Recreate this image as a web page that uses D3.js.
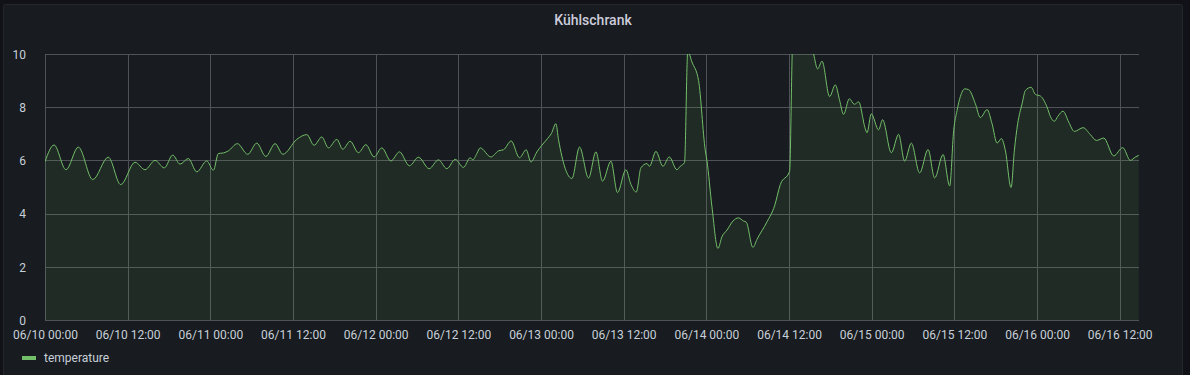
<!DOCTYPE html>
<html>
<head>
<meta charset="utf-8">
<script src="https://cdn.jsdelivr.net/npm/d3@7"></script>
<style>
  html, body { margin: 0; padding: 0; background: #111217; }
  svg { display: block; }
  text { font-family: Roboto, "Noto Sans", sans-serif; }
</style>
</head>
<body>
<div id="chart"></div>
<script>
var width = 1190;
var height = 375;

// series: hours since 06/10 00:00, temperature
var hours = [0.0, 1.31, 3.05, 4.84, 6.93, 9.19, 10.99, 13.07, 14.52, 15.97, 17.32, 18.54, 19.6, 20.81, 22.03, 23.48,
  24.44, 25.17, 25.89, 26.62, 27.92, 29.43, 30.74, 32.05, 33.4, 34.52, 36.55, 38.0, 39.06, 40.18, 41.14, 42.36,
  43.23, 44.29, 45.5, 46.57, 47.77, 48.89, 50.2, 51.45, 52.9, 54.21, 55.76, 57.11, 58.33, 59.54, 60.74, 61.72,
  62.1, 62.69, 63.17, 64.72, 65.83, 66.55, 67.67, 68.87, 69.85, 70.53, 71.4, 72.13, 72.94, 73.48, 74.16, 74.54,
  76.48, 77.59, 78.9, 79.97, 80.93, 82.15, 83.1, 84.32, 85.05, 85.82, 86.5, 87.37, 87.75, 88.68, 89.7, 90.61,
  91.73, 92.21, 92.83, 93.3, 93.91, 94.87, 95.84, 96.08, 96.81, 97.68, 98.26, 98.99, 99.86, 100.67, 101.4, 101.79,
  102.76, 103.34, 104.8, 105.9, 106.73, 108.08, 108.55, 109.64, 110.8, 111.57, 112.15, 112.79, 113.89, 114.72, 115.35, 115.92,
  116.75, 117.48, 118.1, 119.07, 119.32, 119.94, 121.0, 121.58, 122.85, 123.91, 124.78, 125.75, 126.96, 128.18, 129.14, 130.36,
  131.32, 131.9, 132.39, 132.87, 133.49, 134.07, 135.05, 135.77, 136.75, 137.47, 138.2, 138.82, 139.4, 140.23, 140.71, 141.19,
  141.83, 142.31, 143.14, 143.76, 144.49, 145.46, 145.94, 146.52, 147.0, 147.78, 148.6, 149.42, 150.69, 151.74, 152.62, 153.68,
  155.13, 156.44, 157.55, 158.28, 158.76];
var temperature = [5.95, 6.58, 5.65, 6.5, 5.28, 6.12, 5.09, 5.93, 5.65, 6.0, 5.72, 6.2, 5.86, 6.07, 5.57, 5.98,
  5.63, 6.26, 6.28, 6.36, 6.63, 6.23, 6.65, 6.15, 6.63, 6.23, 6.79, 6.97, 6.57, 6.88, 6.47, 6.79,
  6.42, 6.72, 6.29, 6.59, 6.13, 6.47, 5.98, 6.32, 5.8, 6.12, 5.69, 6.02, 5.69, 6.04, 5.74, 6.1,
  6.02, 6.26, 6.47, 6.13, 6.36, 6.4, 6.73, 6.1, 6.4, 5.94, 6.32, 6.57, 6.82, 7.0, 7.38, 6.78,
  5.32, 6.5, 5.34, 6.32, 5.22, 5.97, 4.79, 5.65, 5.1, 4.81, 5.72, 5.88, 5.78, 6.34, 5.78, 6.13,
  5.65, 5.78, 5.92, 10.1, 9.7, 9.0, 6.38, 6.0, 4.26, 2.69, 3.13, 3.38, 3.72, 3.84, 3.72, 3.68,
  2.73, 3.03, 3.69, 4.29, 5.09, 5.59, 10.6, 11.2, 10.9, 10.0, 9.44, 9.73, 8.4, 8.84, 8.25, 7.73,
  8.32, 8.11, 8.2, 7.19, 7.04, 7.75, 7.15, 7.53, 6.29, 6.98, 5.97, 6.65, 5.53, 6.41, 5.34, 6.22,
  5.04, 7.13, 7.88, 8.4, 8.69, 8.66, 8.13, 7.61, 7.91, 7.38, 6.65, 6.82, 6.38, 4.98, 6.38, 7.38,
  8.13, 8.63, 8.75, 8.48, 8.42, 8.0, 7.65, 7.47, 7.65, 7.85, 7.44, 7.09, 7.23, 6.97, 6.75, 6.84,
  6.17, 6.48, 6.0, 6.13, 6.19];

var yTicks = [0, 2, 4, 6, 8, 10];
var xTickLabels = ["06/10 00:00", "06/10 12:00", "06/11 00:00", "06/11 12:00", "06/12 00:00", "06/12 12:00",
  "06/13 00:00", "06/13 12:00", "06/14 00:00", "06/14 12:00", "06/15 00:00", "06/15 12:00", "06/16 00:00", "06/16 12:00"];
var title = "Kühlschrank";
var seriesName = "temperature";

var start = new Date(2021, 5, 10, 0, 0);
var end = new Date(start.getTime() + 158.8 * 3600e3);
var data = hours.map(function(h, i) {
  return {t: new Date(start.getTime() + h * 3600e3), v: temperature[i]};
});
var xTicks = xTickLabels.map(function(d, i) { return new Date(start.getTime() + i * 12 * 3600e3); });

var margin = {left: 45, right: 51, top: 54, bottom: 55};
var x = d3.scaleTime().domain([start, end]).range([margin.left, width - margin.right]);
var y = d3.scaleLinear().domain([0, 10]).range([height - margin.bottom, margin.top]);

var svg = d3.select("#chart").append("svg")
  .attr("width", width)
  .attr("height", height);

// panel
svg.append("rect")
  .attr("x", 3.5).attr("y", 4.5)
  .attr("width", 1179).attr("height", 380)
  .attr("rx", 2)
  .style("fill", "#181b1f")
  .style("stroke", "#24272c");

svg.append("text")
  .attr("x", 593).attr("y", 25)
  .attr("text-anchor", "middle")
  .style("font-size", "14px")
  .style("font-weight", 500)
  .style("fill", "#ccccdc")
  .text(title);

// grid
var grid = svg.append("g");
grid.selectAll("line.h").data(yTicks).enter().append("line")
  .attr("x1", margin.left).attr("x2", width - margin.right)
  .attr("y1", function(d) { return Math.round(y(d)) + 0.5; })
  .attr("y2", function(d) { return Math.round(y(d)) + 0.5; })
  .style("stroke", "#4f5257");
grid.selectAll("line.v").data(xTicks).enter().append("line")
  .attr("x1", function(d) { return Math.round(x(d)) + 0.5; })
  .attr("x2", function(d) { return Math.round(x(d)) + 0.5; })
  .attr("y1", margin.top).attr("y2", height - margin.bottom)
  .style("stroke", "#4f5257");

// clip so values above 10 are cut
svg.append("clipPath").attr("id", "clip")
  .append("rect")
  .attr("x", margin.left).attr("y", margin.top)
  .attr("width", width - margin.left - margin.right)
  .attr("height", height - margin.top - margin.bottom);

var area = d3.area()
  .x(function(d) { return x(d.t); })
  .y0(y(0))
  .y1(function(d) { return y(d.v); })
  .curve(d3.curveMonotoneX);
var line = d3.line()
  .x(function(d) { return x(d.t); })
  .y(function(d) { return y(d.v); })
  .curve(d3.curveMonotoneX);

var plot = svg.append("g").attr("clip-path", "url(#clip)");
plot.append("path")
  .attr("d", area(data))
  .style("fill", "#73bf69")
  .style("fill-opacity", 0.1);
plot.append("path")
  .attr("d", line(data))
  .style("fill", "none")
  .style("stroke", "#73bf69")
  .style("stroke-width", 1);

// axes
var yAxis = svg.append("g")
  .attr("transform", "translate(" + (margin.left - 19) + ",0)")
  .call(d3.axisLeft(y).tickValues(yTicks).tickSize(0).tickPadding(0));
yAxis.select(".domain").remove();
yAxis.selectAll("text")
  .style("font-size", "12px")
  .style("fill", "#c7d0d9")
  .attr("dy", "0.35em");

var xAxis = svg.append("g")
  .attr("transform", "translate(0," + (height - margin.bottom) + ")")
  .call(d3.axisBottom(x).tickValues(xTicks).tickSize(0).tickPadding(10)
    .tickFormat(function(d, i) { return xTickLabels[i]; }));
xAxis.select(".domain").remove();
xAxis.selectAll("text")
  .style("font-size", "12px")
  .style("fill", "#c7d0d9");

// legend
svg.append("rect")
  .attr("x", 22).attr("y", 356)
  .attr("width", 14).attr("height", 4)
  .style("fill", "#73bf69");
svg.append("text")
  .attr("x", 44).attr("y", 358)
  .attr("dy", "0.35em")
  .style("font-size", "12px")
  .style("fill", "#c7d0d9")
  .text(seriesName);
</script>
</body>
</html>
